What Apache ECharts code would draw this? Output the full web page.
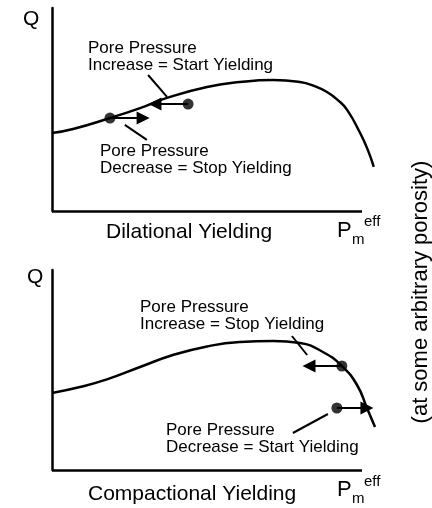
<!DOCTYPE html>
<html>
<head>
<meta charset="utf-8">
<script src="https://cdn.jsdelivr.net/npm/echarts@6/dist/echarts.min.js"></script>
<style>
  html, body { margin: 0; padding: 0; background: #fff; }
  #main { width: 432px; height: 508px; }
</style>
</head>
<body>
<div id="main"></div>
<script>
// dilational yielding (top panel), axis units 0..100 (axis line drawn 0..100)
var dilCurve = [[0, 38.4], [6.8, 40.4], [18.7, 45.8], [28.4, 50.7], [37.1, 55.7], [50, 61.1],
  [60.6, 63.5], [71.3, 64.5], [80, 63.5], [84.5, 61.6], [88.7, 58.6], [92.3, 54.5],
  [95.2, 49.8], [99.4, 38.4], [101.9, 30.0], [103.8, 21.7]];
var dilDots = [[18.7, 45.8], [43.9, 52.7]];
var dilArrows = [[[43.9, 52.7], [33.2, 52.7]], [[18.7, 45.8], [29.4, 45.8]]];
var dilLeaders = [[[31.0, 67.0], [37.1, 56.2]], [[23.5, 42.4], [30.6, 35.0]]];

// compactional yielding (bottom panel)
var compCurve = [[0, 38.5], [9, 41.5], [17.7, 45.3], [28.4, 51.5], [39.0, 57.5], [50, 61.8],
  [60.6, 64], [71.3, 64.5], [80, 63.5], [87.4, 59], [93.5, 52], [98.4, 42.5],
  [101.6, 31], [104.2, 21.5]];
var compDots = [[93.5, 52], [91.9, 31]];
var compArrows = [[[93.5, 52], [82.9, 52]], [[91.9, 31], [101.6, 31]]];
var compLeaders = [[[77.4, 67], [82.3, 57.5]], [[77.7, 18.5], [89.0, 28]]];

var X_MAX = 106;   // room for the curve tail past the drawn axis end
var FONT = '"Liberation Sans", Arial, Helvetica, sans-serif';

function xAx(idx) {
  return {
    type: 'value', gridIndex: idx, min: 0, max: X_MAX,
    axisLine: { show: false },
    axisTick: { show: false }, axisLabel: { show: false }, splitLine: { show: false }
  };
}
function yAx(idx) {
  return {
    type: 'value', gridIndex: idx, min: 0, max: 100,
    axisLine: { lineStyle: { color: '#000', width: 2.5 } },
    axisTick: { show: false }, axisLabel: { show: false }, splitLine: { show: false }
  };
}

function toLines(pairs) {
  return pairs.map(function (p) { return { coords: p }; });
}

function panelSeries(idx, curve, dots, arrows, leaders) {
  return [
    {
      type: 'line', xAxisIndex: idx, yAxisIndex: idx, data: curve, smooth: 0.5,
      showSymbol: false, clip: false, silent: true,
      lineStyle: { color: '#000', width: 2.5 },
      markLine: {
        silent: true, symbol: 'none', label: { show: false },
        lineStyle: { color: '#000', width: 2.5, type: 'solid' },
        data: [[{ coord: [0, 0] }, { coord: [100, 0] }]]
      }
    },
    {
      type: 'lines', coordinateSystem: 'cartesian2d', xAxisIndex: idx, yAxisIndex: idx,
      data: toLines(leaders), symbol: 'none', silent: true,
      lineStyle: { color: '#000', width: 2, opacity: 1, curveness: 0 }
    },
    {
      type: 'lines', coordinateSystem: 'cartesian2d', xAxisIndex: idx, yAxisIndex: idx,
      data: toLines(arrows), symbol: ['none', 'triangle'], symbolSize: [9, 13], silent: true,
      lineStyle: { color: '#000', width: 2, opacity: 1, curveness: 0 }
    },
    {
      type: 'scatter', xAxisIndex: idx, yAxisIndex: idx, data: dots, symbolSize: 11,
      itemStyle: { color: '#000' }, silent: true
    }
  ];
}

function txt(x, y, text, size, extra) {
  var el = {
    type: 'text', x: x, y: y,
    style: { text: text, fill: '#000', font: size + 'px ' + FONT, align: 'left', verticalAlign: 'middle', lineHeight: 17 }
  };
  if (extra) Object.assign(el, extra);
  return el;
}

var chart = echarts.init(document.getElementById('main'));
chart.setOption({
  backgroundColor: '#fff',
  animation: false,
  grid: [
    { left: 52, top: 8, width: 310 * X_MAX / 100, height: 203 },
    { left: 52, top: 270, width: 310 * X_MAX / 100, height: 200 }
  ],
  xAxis: [xAx(0), xAx(1)],
  yAxis: [yAx(0), yAx(1)],
  series: panelSeries(0, dilCurve, dilDots, dilArrows, dilLeaders)
    .concat(panelSeries(1, compCurve, compDots, compArrows, compLeaders)),
  graphic: [
    txt(23, 19, 'Q', 21),
    txt(27, 277, 'Q', 21),
    txt(88, 57, 'Pore Pressure\nIncrease = Start Yielding', 17),
    txt(100, 160, 'Pore Pressure\nDecrease = Stop Yielding', 17),
    txt(140, 316, 'Pore Pressure\nIncrease = Stop Yielding', 17),
    txt(166, 439, 'Pore Pressure\nDecrease = Start Yielding', 17),
    txt(106, 232, 'Dilational Yielding', 21),
    txt(88, 494, 'Compactional Yielding', 21),
    txt(337, 231, 'P', 22),
    txt(352, 240, 'm', 15),
    txt(364, 222, 'eff', 15),
    txt(337, 490, 'P', 22),
    txt(352, 499, 'm', 15),
    txt(364, 482, 'eff', 15),
    txt(421, 292, '', 21, {
      rotation: Math.PI / 2,
      style: { text: '(at some arbitrary porosity)', fill: '#000', font: '22px ' + FONT, align: 'center', verticalAlign: 'middle' }
    })
  ]
});
</script>
</body>
</html>
